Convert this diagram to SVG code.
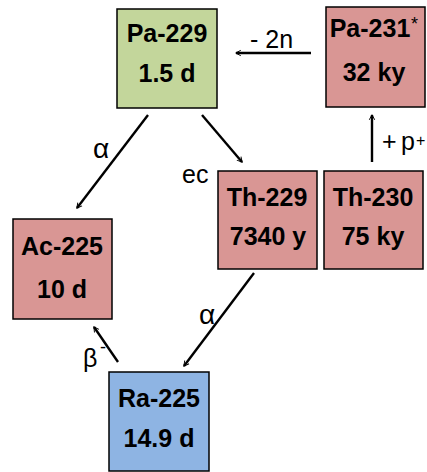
<svg xmlns="http://www.w3.org/2000/svg" width="427" height="472" viewBox="0 0 427 472">
<style>
.box{stroke:#000;stroke-width:1.5}
.g{fill:#C3D69B}.p{fill:#D99694}.b{fill:#8EB4E3}
.t{font-family:"Liberation Sans",Arial,sans-serif;font-weight:bold;font-size:25px;text-anchor:middle;fill:#000}
.l{font-family:"Liberation Sans",Arial,sans-serif;font-size:25px;fill:#000}
.s{font-family:"Liberation Sans",Arial,sans-serif;font-size:16px;fill:#000}
.c{stroke:#000;stroke-width:2.4;fill:none;marker-end:url(#ah)}
</style>
<defs>
<marker id="ah" viewBox="0 0 10 10" refX="9" refY="5" markerWidth="6" markerHeight="6" markerUnits="userSpaceOnUse" orient="auto" overflow="visible">
<path d="M1,0.5 L9.5,5 L1,9.5" fill="none" stroke="#000" stroke-width="1.6"/>
</marker>
</defs>
<g id="pa229"><rect class="box g" x="117" y="9" width="100" height="99"/><text class="t" x="167" y="42">Pa-229</text><text class="t" x="167" y="82">1.5 d</text></g>
<g id="pa231"><rect class="box p" x="326" y="7" width="99" height="100"/><text class="t" x="370" y="37">Pa-231</text><text class="s" x="411" y="30" style="font-size:18px">*</text><text class="t" x="374" y="81">32 ky</text></g>
<g id="th229"><rect class="box p" x="218" y="171" width="99" height="98"/><text class="t" x="267" y="206">Th-229</text><text class="t" x="268" y="245">7340 y</text></g>
<g id="th230"><rect class="box p" x="324" y="171" width="99" height="98"/><text class="t" x="373" y="206">Th-230</text><text class="t" x="373" y="245">75 ky</text></g>
<g id="ac225"><rect class="box p" x="13" y="219" width="99" height="100"/><text class="t" x="62" y="255">Ac-225</text><text class="t" x="62" y="298">10 d</text></g>
<g id="ra225"><rect class="box b" x="109" y="372" width="100" height="99"/><text class="t" x="159" y="407">Ra-225</text><text class="t" x="159" y="447">14.9 d</text></g>
<g id="connectors">
<line class="c" x1="311" y1="53" x2="236" y2="53"/>
<line class="c" x1="148" y1="115" x2="77" y2="208"/>
<line class="c" x1="202" y1="115" x2="242" y2="162"/>
<line class="c" x1="372" y1="162" x2="372" y2="115"/>
<line class="c" x1="254" y1="273" x2="184" y2="366"/>
<line class="c" x1="118" y1="362" x2="94" y2="327"/>
</g>
<g id="labels">
<text class="l" x="250" y="48">- 2n</text>
<text class="l" x="93" y="158" style="font-size:28px">α</text>
<text class="l" x="182" y="183">ec</text>
<text class="l" x="382" y="150">+</text><text class="l" x="401" y="150">p</text><text class="s" x="416" y="146">+</text>
<text class="l" x="199" y="324" style="font-size:28px">α</text>
<text class="l" x="83" y="367">β</text><text class="s" x="100" y="353" style="font-size:18px">-</text>
</g>
</svg>
